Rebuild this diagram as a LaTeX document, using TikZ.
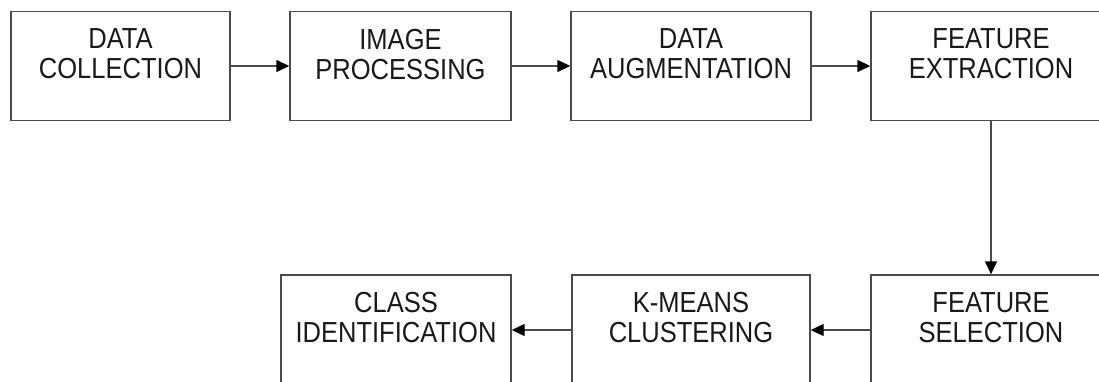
\documentclass[tikz,border=0pt]{standalone}
\usepackage{fontspec}
\setmainfont{Liberation Sans}[FakeStretch=0.88]
\usetikzlibrary{arrows.meta}
\definecolor{linec}{RGB}{75,75,75}
\definecolor{textc}{RGB}{25,25,25}
\tikzset{
  box/.style={draw=linec, line width=1.4pt, rectangle, inner sep=0pt, minimum height=109pt},
  lbl/.style={font=\fontsize{29}{30}\selectfont, text=textc, align=center, inner sep=0pt, anchor=north, yshift=-18pt},
  conn/.style={draw=linec, line width=1.4pt, -{Triangle[length=13pt,width=12pt,color=black]}}
}
\begin{document}
\begin{tikzpicture}[x=1pt,y=-1pt]
\useasboundingbox (0,0) rectangle (1099,381);
\clip (0,0) rectangle (1099,381);
\node[box, minimum width=219pt, label={[lbl]north:DATA\\COLLECTION}] (b1) at (120.5,66) {};
\node[box, minimum width=221pt, label={[lbl]north:IMAGE\\PROCESSING}] (b2) at (400.5,66) {};
\node[box, minimum width=240pt, label={[lbl]north:DATA\\AUGMENTATION}] (b3) at (691,66) {};
\node[box, minimum width=240pt, label={[lbl]north:FEATURE\\EXTRACTION}] (b4) at (991,66) {};
\node[box, minimum width=240pt, minimum height=110pt, label={[lbl]north:FEATURE\\SELECTION}] (b5) at (991,330) {};
\node[box, minimum width=238pt, minimum height=110pt, label={[lbl]north:K-MEANS\\CLUSTERING}] (b6) at (691,330) {};
\node[box, minimum width=230pt, minimum height=110pt, label={[lbl]north:CLASS\\IDENTIFICATION}] (b7) at (396,330) {};
\draw[conn] (b1) -- (b2);
\draw[conn] (b2) -- (b3);
\draw[conn] (b3) -- (b4);
\draw[conn] (b4) -- (b5);
\draw[conn] (b5) -- (b6);
\draw[conn] (b6) -- (b7);
\end{tikzpicture}
\end{document}
